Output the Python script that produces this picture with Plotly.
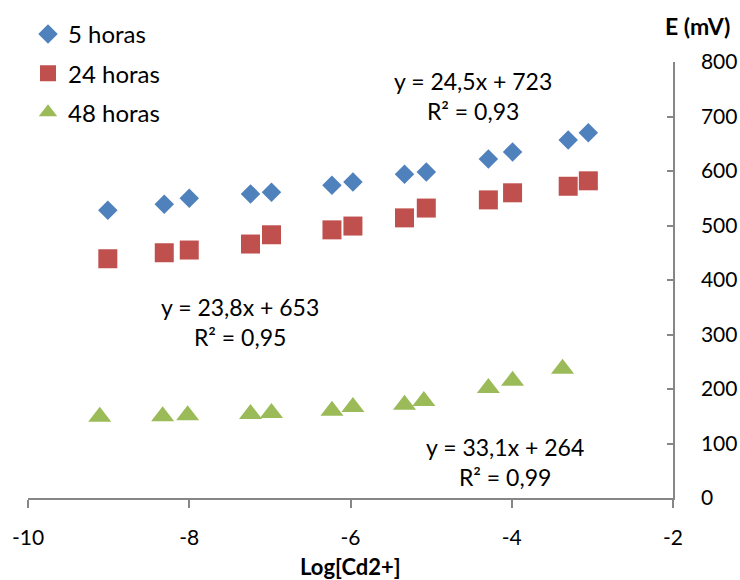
import plotly.graph_objects as go

# Data
x_5h = [-9.01, -8.31, -8.00, -7.24, -6.98, -6.23, -5.97, -5.33, -5.06, -4.29, -3.99, -3.30, -3.05]
y_5h = [528, 539, 550, 558, 561, 574, 580, 594, 598, 622, 635, 657, 670]

x_24h = [-9.01, -8.31, -8.00, -7.24, -6.98, -6.23, -5.97, -5.33, -5.06, -4.29, -3.99, -3.30, -3.05]
y_24h = [439, 450, 455, 466, 483, 492, 499, 514, 532, 547, 560, 572, 582]

x_48h = [-9.11, -8.33, -8.02, -7.24, -6.98, -6.23, -5.97, -5.33, -5.09, -4.29, -3.99, -3.37]
y_48h = [149, 150, 152, 154, 156, 160, 167, 171, 178, 202, 215, 237]

series_names = ["5 horas", "24 horas", "48 horas"]
eq_texts = ["y = 24,5x + 723<br>R² = 0,93", "y = 23,8x + 653<br>R² = 0,95", "y = 33,1x + 264<br>R² = 0,99"]
x_ticks = [-10, -8, -6, -4, -2]
y_ticks = [0, 100, 200, 300, 400, 500, 600, 700, 800]

FONT = "Lato"
FS = 21
W, H = 740, 580
ML, MR, MT, MB = 28, 67, 62, 82

fig = go.Figure()
fig.add_trace(go.Scatter(x=x_5h, y=y_5h, mode="markers", name=series_names[0], legendgroup="a",
                         marker=dict(symbol="diamond", size=15, color="#4F81BD")))
fig.add_trace(go.Scatter(x=x_24h, y=y_24h, mode="markers", name=series_names[1], legendgroup="b",
                         marker=dict(symbol="square", size=19, color="#C0504D")))
fig.add_trace(go.Scatter(x=x_48h, y=y_48h, mode="markers", name=series_names[2], legendgroup="c",
                         marker=dict(symbol="triangle-up", size=20, color="#9BBB59")))

axis_color = "#868686"
fig.update_layout(
    width=W, height=H,
    margin=dict(l=ML, r=MR, t=MT, b=MB, autoexpand=False),
    paper_bgcolor="white", plot_bgcolor="white",
    font=dict(family=FONT, size=FS, color="black"),
    showlegend=True,
    legend=dict(x=0.0, y=1.115, xanchor="left", yanchor="top",
                bgcolor="rgba(0,0,0,0)", font=dict(size=24),
                itemsizing="trace", tracegroupgap=5, itemwidth=30),
    xaxis=dict(range=[-10, -2], tickvals=x_ticks, ticktext=[str(v) for v in x_ticks],
               showgrid=False, zeroline=False, showline=True, linecolor=axis_color, linewidth=1.5,
               ticks="outside", ticklen=8, tickcolor=axis_color, tickwidth=1.5,
               ticklabelstandoff=12, automargin=False),
    yaxis=dict(range=[0, 800], tickvals=y_ticks, side="right",
               showgrid=False, zeroline=False, showline=True, linecolor=axis_color, linewidth=1.5,
               ticks="inside", ticklen=6, tickcolor=axis_color, tickwidth=1.5,
               ticklabelstandoff=22, automargin=False),
)

def px_to_paper(px, py):
    return (px - ML) / (W - ML - MR), 1 - (py - MT) / (H - MT - MB)

anns = [(473, 96, eq_texts[0]), (240, 322, eq_texts[1]), (505, 462, eq_texts[2])]
for ax_, ay_, t in anns:
    xp, yp = px_to_paper(ax_, ay_)
    fig.add_annotation(x=xp, y=yp, xref="paper", yref="paper", text=t, showarrow=False,
                       xanchor="center", yanchor="middle", align="center", font=dict(size=23))
xp, yp = px_to_paper(697, 26)
fig.add_annotation(x=xp, y=yp, xref="paper", yref="paper", text="<b>E (mV)</b>", showarrow=False,
                   xanchor="center", yanchor="middle", font=dict(size=23))
xp, yp = px_to_paper(350, 566)
fig.add_annotation(x=xp, y=yp, xref="paper", yref="paper", text="<b>Log[Cd2+]</b>", showarrow=False,
                   xanchor="center", yanchor="middle", font=dict(size=22))

fig.write_html("out.html")
